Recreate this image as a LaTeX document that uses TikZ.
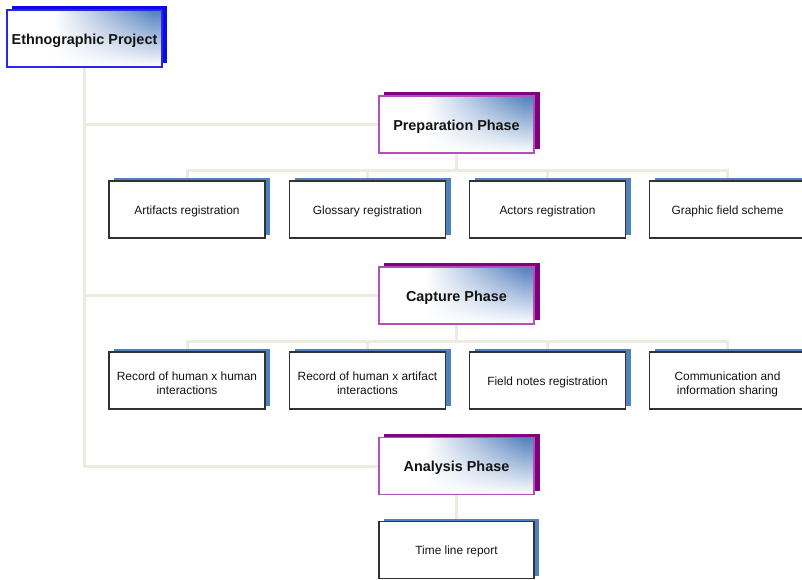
\documentclass[tikz,border=0pt]{standalone}
\usepackage{fontspec}
\setmainfont{Liberation Sans}
\usetikzlibrary{shadows,fadings,backgrounds}

% palette
\definecolor{glow}{RGB}{84,128,190}
\definecolor{conn}{RGB}{237,235,224}
\definecolor{rootedge}{RGB}{40,40,225}
\definecolor{rootshadow}{RGB}{10,10,235}
\definecolor{phaseedge}{RGB}{176,80,184}
\definecolor{phaseshadow}{RGB}{128,0,128}
\definecolor{leafedge}{RGB}{50,50,50}
\definecolor{leafshadow}{RGB}{79,129,189}
\definecolor{ink}{RGB}{20,20,20}

% white on the left, blue toward the right edge
\pgfdeclarehorizontalshading{boxglow}{100bp}{color(0bp)=(white); color(25bp)=(white); color(40bp)=(white); color(72bp)=(glow); color(100bp)=(glow)}
% the blue fades out toward the bottom of the box
\tikzfading[name=fadedown, top color=transparent!0, middle color=transparent!35, bottom color=transparent!100]

\tikzset{
  box/.style={minimum width=155pt, minimum height=57pt, inner sep=0pt, anchor=center, text=ink},
  glowbox/.style 2 args={box, fill=white,
    general shadow={fill=#2, shadow xshift=5pt, shadow yshift=4pt},
    postaction={shading=boxglow, shade, path fading=fadedown},
    postaction={draw=#1, line width=1.3pt},
    text height=11.8pt, text depth=0pt,
    font=\fontsize{14.4}{17}\selectfont\bfseries},
  rootbox/.style={glowbox={rootedge}{rootshadow}},
  phasebox/.style={glowbox={phaseedge}{phaseshadow}, general shadow={fill=phaseshadow, shadow xshift=6pt, shadow yshift=4pt}},
  leafbox/.style={box, minimum width=156pt, fill=white, draw=leafedge, line width=1.1pt,
    general shadow={fill=leafshadow, shadow xshift=5pt, shadow yshift=3pt},
    text height=9.8pt, text depth=0pt,
    align=center, font=\fontsize{11.9}{14}\selectfont},
  twoline/.style={text height=28pt, text depth=0pt},
  link/.style={draw=conn, line width=3pt}
}

\begin{document}
\begin{tikzpicture}[x=1pt, y=-1pt]
  \useasboundingbox (0,0) rectangle (802,579);

  % root and phases
  \node[rootbox]  (root) at (84.5,38.5)  {Ethnographic Project};
  \node[phasebox] (prep) at (456.5,124.5) {Preparation Phase};
  \node[phasebox] (capt) at (456.5,295.5) {Capture Phase};
  \node[phasebox] (anal) at (456.5,466)   {Analysis Phase};

  % preparation tasks
  \node[leafbox] (p1) at (187,209.5)   {Artifacts registration};
  \node[leafbox] (p2) at (367.5,209.5) {Glossary registration};
  \node[leafbox] (p3) at (547.5,209.5) {Actors registration};
  \node[leafbox] (p4) at (727.5,209.5) {Graphic field scheme};

  % capture tasks
  \node[leafbox, twoline] (c1) at (187,380.5)   {Record of human x human\\interactions};
  \node[leafbox, twoline] (c2) at (367.5,380.5) {Record of human x artifact\\interactions};
  \node[leafbox] (c3) at (547.5,380.5) {Field notes registration};
  \node[leafbox, twoline] (c4) at (727.5,380.5) {Communication and\\information sharing};

  % analysis task
  \node[leafbox, minimum width=155pt] (a1) at (456.5,550) {Time line report};

  % bus lines under the phases
  \coordinate (pbus) at (456.5,170.5);
  \coordinate (cbus) at (456.5,341);

  \begin{scope}[on background layer]
    \draw[link] (root.south) |- (anal.west);
    \draw[link] (root.south |- prep.west) -- (prep.west);
    \draw[link] (root.south |- capt.west) -- (capt.west);

    \draw[link] (prep.south) -- (pbus);
    \foreach \n in {p1,p2,p3,p4} \draw[link] (pbus) -| (\n.north);

    \draw[link] (capt.south) -- (cbus);
    \foreach \n in {c1,c2,c3,c4} \draw[link] (cbus) -| (\n.north);

    \draw[link] (anal.south) -- (a1.north);
  \end{scope}
\end{tikzpicture}
\end{document}
